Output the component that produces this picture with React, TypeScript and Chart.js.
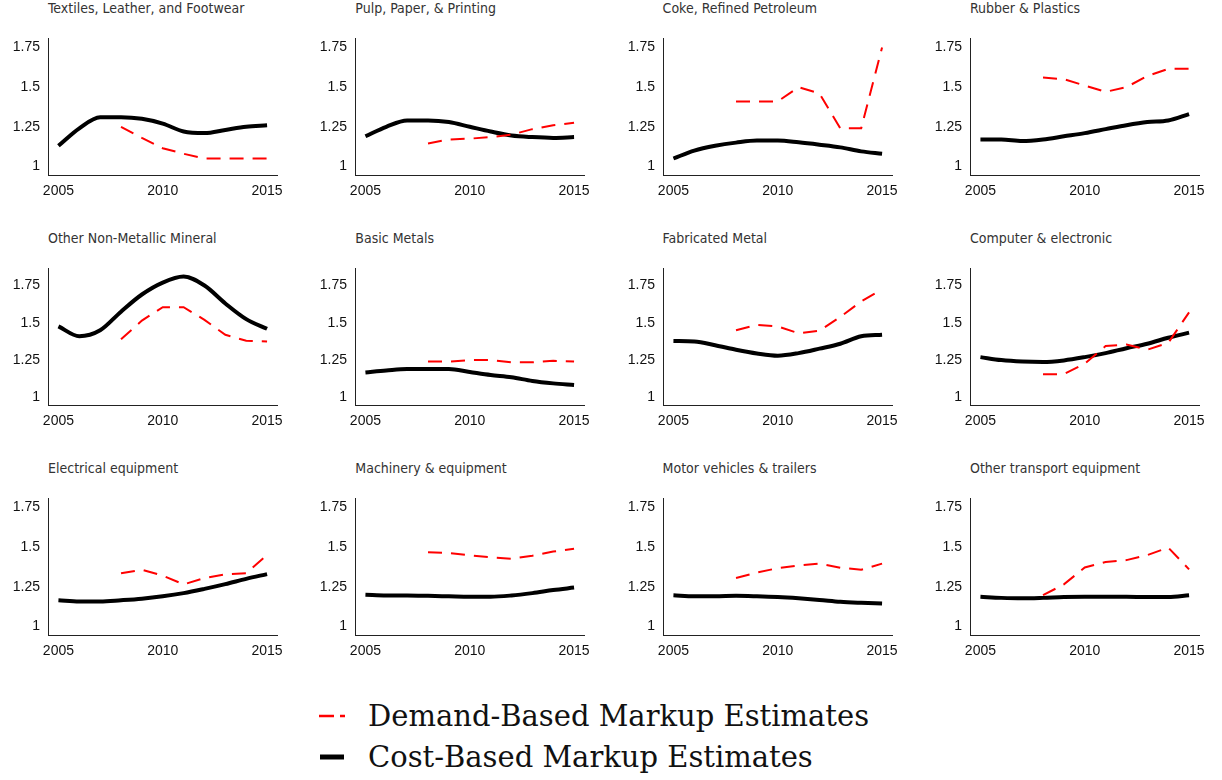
import React, { useEffect, useRef } from "react";
import { Chart, registerables } from "chart.js";

Chart.register(...registerables);

const YEARS = [2005, 2006, 2007, 2008, 2009, 2010, 2011, 2012, 2013, 2014, 2015];
const DEMAND_YEARS = [2008, 2009, 2010, 2011, 2012, 2013, 2014, 2015];
const X_TICKS = [2005, 2010, 2015];
const Y_TICKS = [1, 1.25, 1.5, 1.75];

const TITLES = [
  "Textiles, Leather, and Footwear",
  "Pulp, Paper, & Printing",
  "Coke, Refined Petroleum",
  "Rubber & Plastics",
  "Other Non-Metallic Mineral",
  "Basic Metals",
  "Fabricated Metal",
  "Computer & electronic",
  "Electrical equipment",
  "Machinery & equipment",
  "Motor vehicles & trailers",
  "Other transport equipment",
];

// Cost-based markup estimates (2005-2015)
const COST_TEXTILES = [1.13, 1.24, 1.31, 1.31, 1.3, 1.27, 1.22, 1.21, 1.23, 1.25, 1.26];
const COST_PULP = [1.19, 1.25, 1.29, 1.29, 1.28, 1.25, 1.22, 1.195, 1.185, 1.18, 1.185];
const COST_COKE = [1.05, 1.1, 1.13, 1.15, 1.163, 1.163, 1.152, 1.137, 1.12, 1.095, 1.08];
const COST_RUBBER = [1.17, 1.17, 1.16, 1.17, 1.19, 1.21, 1.235, 1.26, 1.28, 1.29, 1.33];
const COST_MINERAL = [1.476, 1.41, 1.45, 1.575, 1.69, 1.77, 1.81, 1.75, 1.63, 1.525, 1.46];
const COST_BASIC = [1.167, 1.18, 1.19, 1.19, 1.19, 1.17, 1.15, 1.135, 1.11, 1.094, 1.083];
const COST_FABRICATED = [1.378, 1.375, 1.35, 1.32, 1.295, 1.28, 1.297, 1.327, 1.36, 1.41, 1.42];
const COST_COMPUTER = [1.27, 1.25, 1.24, 1.237, 1.248, 1.27, 1.297, 1.33, 1.36, 1.4, 1.434];
const COST_ELECTRICAL = [1.165, 1.157, 1.157, 1.165, 1.175, 1.19, 1.21, 1.237, 1.267, 1.3, 1.33];
const COST_MACHINERY = [1.2, 1.195, 1.195, 1.193, 1.19, 1.187, 1.187, 1.195, 1.21, 1.229, 1.245];
const COST_MOTOR = [1.197, 1.19, 1.19, 1.193, 1.19, 1.185, 1.177, 1.167, 1.155, 1.149, 1.145];
const COST_TRANSPORT = [1.187, 1.18, 1.177, 1.18, 1.185, 1.187, 1.187, 1.187, 1.185, 1.185, 1.197];

// Demand-based markup estimates (2008-2015)
const DEMAND_TEXTILES = [1.25, 1.18, 1.115, 1.08, 1.05, 1.05, 1.05, 1.05];
const DEMAND_PULP = [1.145, 1.17, 1.175, 1.185, 1.2, 1.235, 1.26, 1.275];
const DEMAND_COKE = [1.41, 1.41, 1.41, 1.5, 1.46, 1.24, 1.24, 1.75];
const DEMAND_RUBBER = [1.56, 1.55, 1.51, 1.47, 1.5, 1.57, 1.615, 1.615];
const DEMAND_MINERAL = [1.39, 1.515, 1.605, 1.605, 1.52, 1.42, 1.38, 1.375];
const DEMAND_BASIC = [1.24, 1.24, 1.25, 1.25, 1.235, 1.235, 1.245, 1.24];
const DEMAND_FABRICATED = [1.45, 1.487, 1.476, 1.43, 1.447, 1.54, 1.643, 1.724];
const DEMAND_COMPUTER = [1.156, 1.156, 1.226, 1.344, 1.355, 1.32, 1.365, 1.57];
const DEMAND_ELECTRICAL = [1.335, 1.357, 1.32, 1.265, 1.305, 1.328, 1.335, 1.45];
const DEMAND_MACHINERY = [1.468, 1.462, 1.448, 1.436, 1.426, 1.446, 1.472, 1.49];
const DEMAND_MOTOR = [1.305, 1.34, 1.367, 1.385, 1.396, 1.37, 1.357, 1.396];
const DEMAND_TRANSPORT = [1.197, 1.265, 1.372, 1.406, 1.418, 1.45, 1.497, 1.36];

const COST_SERIES = [
  COST_TEXTILES, COST_PULP, COST_COKE, COST_RUBBER,
  COST_MINERAL, COST_BASIC, COST_FABRICATED, COST_COMPUTER,
  COST_ELECTRICAL, COST_MACHINERY, COST_MOTOR, COST_TRANSPORT,
];
const DEMAND_SERIES = [
  DEMAND_TEXTILES, DEMAND_PULP, DEMAND_COKE, DEMAND_RUBBER,
  DEMAND_MINERAL, DEMAND_BASIC, DEMAND_FABRICATED, DEMAND_COMPUTER,
  DEMAND_ELECTRICAL, DEMAND_MACHINERY, DEMAND_MOTOR, DEMAND_TRANSPORT,
];

const LEGEND_LABELS = ["Demand-Based Markup Estimates", "Cost-Based Markup Estimates"];

const ROW_Y_MIN = [0.946, 0.949, 0.946];
const ROW_Y_MAX = [1.807, 1.865, 1.807];
const X_MIN = 2004.5;
const X_MAX = 2015.5;

const COL_X = [48, 355.3, 662.6, 970];
const ROW_TOP = [32, 262, 492];
const CANVAS_W = 291;
const CANVAS_H = 181;

const TICK_FONT = { family: "'Liberation Sans', Arial, Helvetica, sans-serif", size: 14 };

function Panel({ index }: { index: number }) {
  const ref = useRef<HTMLCanvasElement | null>(null);
  const row = Math.floor(index / 4);
  const col = index % 4;

  useEffect(() => {
    if (!ref.current) return;
    const chart = new Chart(ref.current, {
      type: "line",
      data: {
        datasets: [
          {
            label: LEGEND_LABELS[0],
            data: DEMAND_YEARS.map((x, i) => ({ x, y: DEMAND_SERIES[index][i] })),
            borderColor: "#ff0000",
            borderWidth: 2,
            borderDash: [14, 9],
            tension: 0,
            pointRadius: 0,
            fill: false,
          },
          {
            label: LEGEND_LABELS[1],
            data: YEARS.map((x, i) => ({ x, y: COST_SERIES[index][i] })),
            borderColor: "#000000",
            borderWidth: 4,
            cubicInterpolationMode: "monotone",
            pointRadius: 0,
            fill: false,
          },
        ],
      },
      options: {
        animation: false,
        responsive: false,
        devicePixelRatio: 1,
        layout: { padding: { top: 10, right: 8, left: 0, bottom: 0 } },
        plugins: {
          legend: { display: false },
          tooltip: { enabled: false },
          title: { display: false },
        },
        scales: {
          x: {
            type: "linear",
            min: X_MIN,
            max: X_MAX,
            afterBuildTicks: (s: any) => {
              s.ticks = X_TICKS.map((v) => ({ value: v }));
            },
            afterFit: (s: any) => {
              s.height = 28;
            },
            grid: { display: false, drawTicks: false },
            border: { display: true, color: "#222", width: 1 },
            ticks: {
              padding: 8,
              color: "#111",
              font: TICK_FONT,
              maxRotation: 0,
              autoSkip: false,
              callback: (v: any) => String(v),
            },
          },
          y: {
            type: "linear",
            min: ROW_Y_MIN[row],
            max: ROW_Y_MAX[row],
            afterBuildTicks: (s: any) => {
              s.ticks = Y_TICKS.map((v) => ({ value: v }));
            },
            afterFit: (s: any) => {
              s.width = 48;
            },
            grid: { display: false, drawTicks: false },
            border: { display: true, color: "#222", width: 1 },
            ticks: {
              padding: 8,
              color: "#111",
              font: TICK_FONT,
              autoSkip: false,
              callback: (v: any) => String(v),
            },
          },
        },
      },
    });
    return () => chart.destroy();
  }, [index, row]);

  const colX = COL_X[col];
  const top = ROW_TOP[row];
  return (
    <>
      <div
        style={{
          position: "absolute",
          left: colX,
          top: top - 24 - 8,
          height: 16,
          lineHeight: "16px",
          fontFamily: "'Liberation Sans Narrow', 'DejaVu Sans Condensed', sans-serif",
          fontSize: 14,
          color: "#333",
          whiteSpace: "nowrap",
        }}
      >
        {TITLES[index]}
      </div>
      <canvas
        ref={ref}
        width={CANVAS_W}
        height={CANVAS_H}
        style={{
          position: "absolute",
          left: colX - 48,
          top: top - 10,
          width: CANVAS_W,
          height: CANVAS_H,
        }}
      />
    </>
  );
}

export default function App() {
  const legendFont = "'DejaVu Serif', 'Liberation Serif', serif";
  return (
    <div style={{ position: "absolute", left: 0, top: 0, width: 1222, height: 780, background: "#fff" }}>
      {TITLES.map((_, i) => (
        <Panel key={i} index={i} />
      ))}
      <svg
        width={30}
        height={60}
        style={{ position: "absolute", left: 319, top: 706 }}
      >
        <line x1={0} y1={10} x2={26} y2={10} stroke="#ff0000" strokeWidth={2.5} strokeDasharray="15 6" />
        <line x1={1} y1={51} x2={25} y2={51} stroke="#000" strokeWidth={5} />
      </svg>
      <div
        style={{
          position: "absolute",
          left: 368,
          top: 697,
          fontFamily: legendFont,
          fontSize: 29,
          lineHeight: "38px",
          color: "#111",
          whiteSpace: "nowrap",
        }}
      >
        {LEGEND_LABELS[0]}
      </div>
      <div
        style={{
          position: "absolute",
          left: 368,
          top: 738,
          fontFamily: legendFont,
          fontSize: 29,
          lineHeight: "38px",
          color: "#111",
          whiteSpace: "nowrap",
        }}
      >
        {LEGEND_LABELS[1]}
      </div>
    </div>
  );
}
